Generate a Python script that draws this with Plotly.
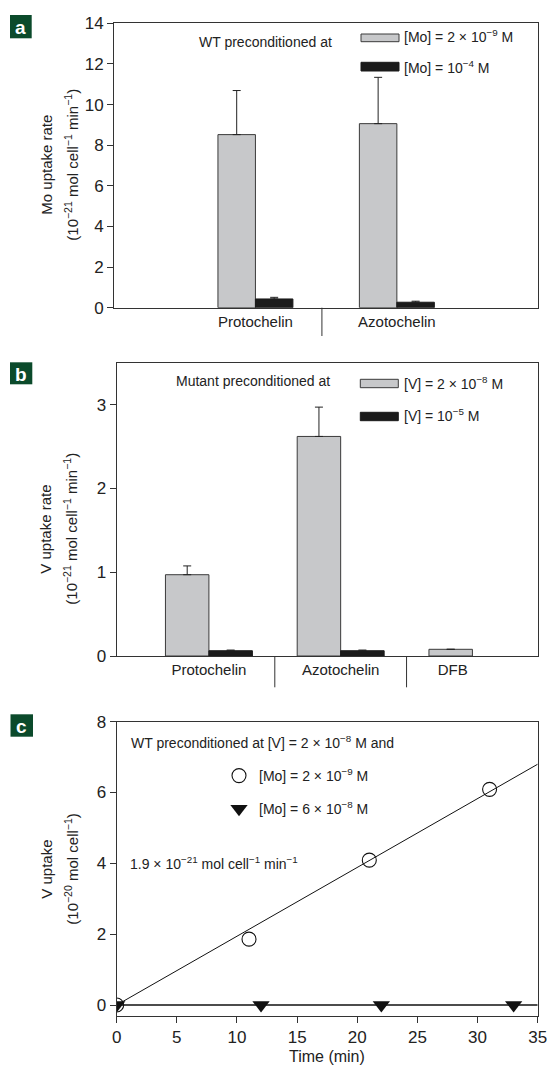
import plotly.graph_objects as go

W, H = 547, 1065
FONT = "Liberation Sans Narrow, Arial Narrow, Liberation Sans, Arial, sans-serif"

# ---------------- data ----------------
# panel a
a_categories = ["Protochelin", "Azotochelin"]
a_low_mo = [8.52, 9.06]          # [Mo] = 2e-9 M
a_low_mo_err = [2.17, 2.28]
a_high_mo = [0.43, 0.27]         # [Mo] = 1e-4 M
a_high_mo_err = [0.08, 0.05]

# panel b
b_categories = ["Protochelin", "Azotochelin", "DFB"]
b_low_v = [0.97, 2.62, 0.08]     # [V] = 2e-8 M
b_low_v_err = [0.105, 0.35, 0.0]
b_high_v = [0.063, 0.063]        # [V] = 1e-5 M
b_high_v_err = [0.008, 0.008]

# panel c
c_time_mo_low = [0, 11, 21, 31]
c_uptake_mo_low = [0.0, 1.86, 4.09, 6.09]
c_time_mo_high = [0, 12, 22, 33]
c_uptake_mo_high = [0.0, 0.0, 0.0, 0.0]
c_fit_low_x = [0, 35]
c_fit_low_y = [0.0, 6.8]
c_fit_high_x = [0, 35]
c_fit_high_y = [0.0, 0.0]

GRAY = "#c7c8ca"
BLACK = "#1b1b1b"
EDGE = "#3a3a3a"
GREEN = "#0b4a2b"
TXT = 14


def px(x):
    return x / W


def py(y):
    return 1 - y / H


fig = go.Figure()

# ---------------- panel a bars ----------------
a_pos = [i + 1 for i in range(len(a_categories))]
bw_a = 0.265
fig.add_trace(go.Bar(
    x=a_pos, y=a_low_mo, width=bw_a, offset=-bw_a, xaxis="x", yaxis="y",
    marker=dict(color=GRAY, line=dict(color=EDGE, width=1)),
    error_y=dict(type="data", symmetric=False, array=a_low_mo_err,
                 arrayminus=[0] * len(a_low_mo), color="#222", thickness=1, width=4),
    showlegend=False, name="[Mo] = 2×10⁻⁹ M"))
fig.add_trace(go.Bar(
    x=a_pos, y=a_high_mo, width=bw_a, offset=0, xaxis="x", yaxis="y",
    marker=dict(color=BLACK, line=dict(color=BLACK, width=1)),
    error_y=dict(type="data", symmetric=False, array=a_high_mo_err,
                 arrayminus=[0] * len(a_high_mo), color="#222", thickness=1, width=4),
    showlegend=False, name="[Mo] = 10⁻⁴ M"))

# ---------------- panel b bars ----------------
b_pos = [i + 1 for i in range(len(b_categories))]
bw_b = 0.33
fig.add_trace(go.Bar(
    x=b_pos, y=b_low_v, width=bw_b, offset=-bw_b, xaxis="x2", yaxis="y2",
    marker=dict(color=GRAY, line=dict(color=EDGE, width=1)),
    error_y=dict(type="data", symmetric=False, array=b_low_v_err,
                 arrayminus=[0] * len(b_low_v), color="#222", thickness=1, width=4),
    showlegend=False, name="[V] = 2×10⁻⁸ M"))
fig.add_trace(go.Bar(
    x=b_pos[:len(b_high_v)], y=b_high_v, width=bw_b, offset=0, xaxis="x2", yaxis="y2",
    marker=dict(color=BLACK, line=dict(color=BLACK, width=1)),
    error_y=dict(type="data", symmetric=False, array=b_high_v_err,
                 arrayminus=[0] * len(b_high_v), color="#222", thickness=1, width=4),
    showlegend=False, name="[V] = 10⁻⁵ M"))

# ---------------- panel c ----------------
fig.add_trace(go.Scatter(
    x=c_fit_low_x, y=c_fit_low_y, mode="lines", xaxis="x3", yaxis="y3",
    line=dict(color="#111", width=1), showlegend=False, hoverinfo="skip"))
fig.add_trace(go.Scatter(
    x=c_fit_high_x, y=c_fit_high_y, mode="lines", xaxis="x3", yaxis="y3",
    line=dict(color="#111", width=1.3), showlegend=False, hoverinfo="skip"))
fig.add_trace(go.Scatter(
    x=c_time_mo_low, y=c_uptake_mo_low, mode="markers", xaxis="x3", yaxis="y3",
    marker=dict(symbol="circle-open", size=14, color="#111", line=dict(width=1.1)),
    name="[Mo] = 2 × 10<sup>−9</sup> M", legendgroup="g1"))
fig.add_trace(go.Scatter(
    x=c_time_mo_high, y=c_uptake_mo_high, mode="markers", xaxis="x3", yaxis="y3",
    marker=dict(symbol="triangle-down", size=15, color="#111"),
    name="[Mo] = 6 × 10<sup>−8</sup> M", legendgroup="g2"))

axis_common = dict(showline=True, mirror=True, linecolor="#333", linewidth=1,
                   showgrid=False, zeroline=False, automargin=False)
num_font = dict(family=FONT, size=17, color="#222")
cat_font = dict(family=FONT, size=15, color="#222")

layout = dict(
    width=W, height=H, margin=dict(l=0, r=0, t=0, b=0, pad=0, autoexpand=False),
    paper_bgcolor="white", plot_bgcolor="white",
    barmode="overlay", showlegend=True,
    font=dict(family=FONT, size=TXT, color="#222"),
    xaxis=dict(domain=[px(114), px(538.3)], range=[0, 3], anchor="y",
               tickvals=a_pos, ticktext=a_categories, ticks="", tickfont=cat_font,
               **axis_common),
    yaxis=dict(domain=[py(307.7), py(23.3)], range=[0, 14], anchor="x",
               tickvals=list(range(0, 15, 2)), ticks="outside", ticklen=6,
               tickcolor="#333", tickfont=num_font, **axis_common),
    xaxis2=dict(domain=[px(116.7), px(538.3)], range=[0.3, 3.5], anchor="y2",
                tickvals=[1, 2, 2.85], ticktext=b_categories, ticks="",
                tickfont=cat_font, **axis_common),
    yaxis2=dict(domain=[py(656), py(362.7)], range=[0, 3.5], anchor="x2",
                tickvals=[0, 1, 2, 3], ticks="outside", ticklen=6,
                tickcolor="#333", tickfont=num_font, **axis_common),
    xaxis3=dict(domain=[px(116.7), px(537.7)], range=[0, 35], anchor="y3",
                tickvals=list(range(0, 36, 5)), ticks="outside", ticklen=6,
                tickcolor="#333", tickfont=num_font, ticklabeloverflow="allow",
                **axis_common),
    yaxis3=dict(domain=[py(1016), py(721.7)], range=[-0.31, 8], anchor="x3",
                tickvals=[0, 2, 4, 6, 8], ticks="outside", ticklen=6,
                tickcolor="#333", tickfont=num_font, **axis_common),
    legend=dict(x=px(219), y=py(760), xanchor="left", yanchor="top",
                bgcolor="rgba(0,0,0,0)", borderwidth=0, tracegroupgap=12,
                font=dict(family=FONT, size=TXT, color="#222")),
)
fig.update_layout(**layout)

shapes = []
annotations = []

# category dividers (axis decorations)
shapes.append(dict(type="line", xref="x", yref="paper", x0=1.47, x1=1.47,
                   y0=py(307.7), y1=py(336), line=dict(color="#333", width=1)))
for xv in (1.5, 2.5):
    shapes.append(dict(type="line", xref="x2", yref="paper", x0=xv, x1=xv,
                       y0=py(656), y1=py(687.3), line=dict(color="#333", width=1)))


# manual bar legends
def swatch(x0, x1, y0, y1, color, edge):
    shapes.append(dict(type="rect", xref="paper", yref="paper",
                       x0=px(x0), x1=px(x1), y0=py(y1), y1=py(y0),
                       fillcolor=color, line=dict(color=edge, width=1)))


def text(x, y, t, size=TXT, xanchor="left", **kw):
    annotations.append(dict(xref="paper", yref="paper", x=px(x), y=py(y), text=t,
                            showarrow=False, xanchor=xanchor, yanchor="middle",
                            font=dict(family=FONT, size=size, color="#222"), **kw))


swatch(361, 399, 34, 41.7, GRAY, EDGE)
swatch(361, 399, 62.3, 71, BLACK, BLACK)
text(402, 36, "[Mo] = 2 × 10<sup>−9</sup> M")
text(402, 66.7, "[Mo] = 10<sup>−4</sup> M")
text(265, 42.3, "WT preconditioned at", xanchor="center")

swatch(360.3, 398.3, 379.3, 387.7, GRAY, EDGE)
swatch(360.3, 398.3, 412.3, 420.7, BLACK, BLACK)
text(402, 382.7, "[V] = 2 × 10<sup>−8</sup> M")
text(402, 415, "[V] = 10<sup>−5</sup> M")
text(253, 380.7, "Mutant preconditioned at", xanchor="center")

text(128.5, 741.7, "WT preconditioned at [V] = 2 × 10<sup>−8</sup> M and")
text(127.5, 863.3, "1.9 × 10<sup>−21</sup> mol cell<sup>−1</sup> min<sup>−1</sup>")


# axis titles (two lines each)
def ytitle(y, line1, line2):
    for x, t in ((45.7, line1), (70.7, line2)):
        annotations.append(dict(xref="paper", yref="paper", x=px(x), y=py(y), text=t,
                                showarrow=False, textangle=-90, xanchor="center",
                                yanchor="middle",
                                font=dict(family=FONT, size=15, color="#222")))


unit21 = "(10<sup>−21</sup> mol cell<sup>−1</sup> min<sup>−1</sup>)"
ytitle(165, "Mo uptake rate", unit21)
ytitle(529, "V uptake rate", unit21)
ytitle(869, "V uptake", "(10<sup>−20</sup> mol cell<sup>−1</sup>)")
text(326.7, 1056.7, "Time (min)", size=16, xanchor="center")

# panel letters
for lab, (x0, x1, y0, y1) in zip(["a", "b", "c"],
                                 [(10, 31.7, 15, 38.3), (10, 32.3, 362.3, 384.3),
                                  (10.5, 33, 714.3, 736.7)]):
    shapes.append(dict(type="rect", xref="paper", yref="paper", x0=px(x0), x1=px(x1),
                       y0=py(y1), y1=py(y0), fillcolor=GREEN, line=dict(width=0)))
    annotations.append(dict(xref="paper", yref="paper", x=px((x0 + x1) / 2),
                            y=py((y0 + y1) / 2 + 1), text="<b>%s</b>" % lab,
                            showarrow=False, xanchor="center", yanchor="middle",
                            font=dict(family="Liberation Sans, Arial", size=19,
                                      color="white")))

fig.update_layout(shapes=shapes, annotations=annotations)
fig.write_html("out.html")
